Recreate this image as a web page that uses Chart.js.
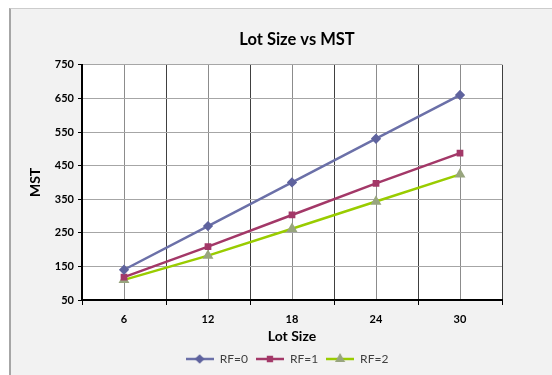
<!DOCTYPE html>
<html>
<head>
<meta charset="utf-8">
<script src="https://cdn.jsdelivr.net/npm/chart.js@4/dist/chart.umd.min.js"></script>
<style>
  html, body { margin: 0; padding: 0; background: #ffffff; }
  #panel {
    position: absolute; left: 9px; top: 8px; width: 541px; height: 367px;
    background: #f2f2f2; border-left: 2px solid #a6a6a6; border-top: 1px solid #cccccc;
  }
  #wrap { position: absolute; left: 0; top: 0; width: 552px; height: 375px; }
</style>
</head>
<body>
<div id="panel"></div>
<div id="wrap"><canvas id="chart" width="552" height="375"></canvas></div>
<script>
// Lot sizes on the category axis
const lotSizes = ['6', '12', '18', '24', '30'];
// MST for each reorder factor
const rf0 = [140, 270, 400, 530, 660];
const rf1 = [118, 209, 303, 397, 487];
const rf2 = [110, 182, 262, 343, 424];
const seriesNames = ['RF=0', 'RF=1', 'RF=2'];
// Value axis range and step
const yMin = 50, yMax = 750, yStep = 100;

const FONT = 'Lato, "Open Sans", sans-serif';

const styles = [
  { line: '#6b70a8', marker: '#5f639e', shape: 'rectRot', r: 3.4 },
  { line: '#a33868', marker: '#a33868', shape: 'rect', r: 3.0 },
  { line: '#99cc00', marker: '#98a57e', shape: 'triangle', r: 3.8 }
];

// Small legend swatch: a line with the series marker in its middle
function swatch(s) {
  const c = document.createElement('canvas');
  c.width = 28; c.height = 12;
  const g = c.getContext('2d');
  g.strokeStyle = s.line; g.lineWidth = 2.5;
  g.beginPath(); g.moveTo(0, 6); g.lineTo(28, 6); g.stroke();
  g.fillStyle = s.marker; g.strokeStyle = s.marker;
  Chart.helpers.drawPoint(g, { pointStyle: s.shape, radius: s.r * 0.9, borderWidth: 1 }, 14, 6);
  return c;
}

// White plot area, and title / legend centred over the plot
const plotBg = {
  id: 'plotBg',
  afterLayout(chart) {
    const a = chart.chartArea;
    const mid = (a.left + a.right) / 2;
    const t = chart.titleBlock;
    if (t) { const d = mid + 5 - (t.left + t.right) / 2; t.left += d; t.right += d; }
    const l = chart.legend;
    if (l) { const d = mid - 5 - (l.left + l.right) / 2; l.left += d; l.right += d; }
  },
  beforeDraw(chart) {
    const a = chart.chartArea, ctx = chart.ctx;
    ctx.save(); ctx.fillStyle = '#ffffff';
    ctx.fillRect(a.left, a.top, a.right - a.left, a.bottom - a.top);
    ctx.restore();
  }
};

const values = [rf0, rf1, rf2];
const datasets = values.map((v, i) => ({
  label: seriesNames[i],
  data: v,
  borderColor: styles[i].line,
  backgroundColor: styles[i].marker,
  pointBackgroundColor: styles[i].marker,
  pointBorderColor: styles[i].marker,
  pointStyle: styles[i].shape,
  pointRadius: styles[i].r,
  borderWidth: 2.5,
  tension: 0
}));

new Chart(document.getElementById('chart'), {
  type: 'line',
  data: { labels: lotSizes, datasets },
  plugins: [plotBg],
  options: {
    responsive: false,
    animation: false,
    layout: { padding: { top: 30, left: 25, right: 50, bottom: 0 } },
    plugins: {
      tooltip: { enabled: false },
      title: {
        display: true, text: 'Lot Size vs MST', color: '#000',
        font: { family: FONT, size: 16.5, weight: 'bold' },
        padding: { top: 0, bottom: 15 }
      },
      legend: {
        position: 'bottom',
        labels: {
          usePointStyle: true, pointStyleWidth: 28,
          color: '#404040', padding: 8,
          font: { family: FONT, size: 12 },
          generateLabels(chart) {
            return chart.data.datasets.map((d, i) => ({
              text: d.label, pointStyle: swatch(styles[i]), fontColor: '#404040',
              lineWidth: 0, strokeStyle: 'transparent', fillStyle: 'transparent',
              hidden: false, datasetIndex: i
            }));
          }
        }
      }
    },
    scales: {
      x: {
        type: 'category', offset: true,
        afterFit(s) { s.height = 45; },
        grid: { offset: true, color: '#404040', tickColor: '#000', tickLength: 5 },
        border: { color: '#000', width: 2 },
        ticks: { color: '#000', font: { family: FONT, size: 11, weight: 'bold' }, padding: 8 },
        title: { display: true, text: 'Lot Size', color: '#000', font: { family: FONT, size: 14, weight: 'bold' }, padding: { top: 0, bottom: 0 } }
      },
      x2: {
        type: 'category', offset: true, position: 'bottom',
        grid: { offset: false, color: '#8c8c8c', drawTicks: false },
        border: { display: false },
        ticks: { display: false }
      },
      y: {
        min: yMin, max: yMax,
        afterFit(s) { s.width = 57; },
        ticks: { stepSize: yStep, color: '#000', font: { family: FONT, size: 11, weight: 'bold' }, padding: 4 },
        grid: { color: '#a6a6a6', tickColor: '#000', tickLength: 4 },
        border: { color: '#000', width: 2 },
        title: { display: true, text: 'MST', color: '#000', font: { family: FONT, size: 14, weight: 'bold' }, padding: 2 }
      }
    }
  }
});
</script>
</body>
</html>
